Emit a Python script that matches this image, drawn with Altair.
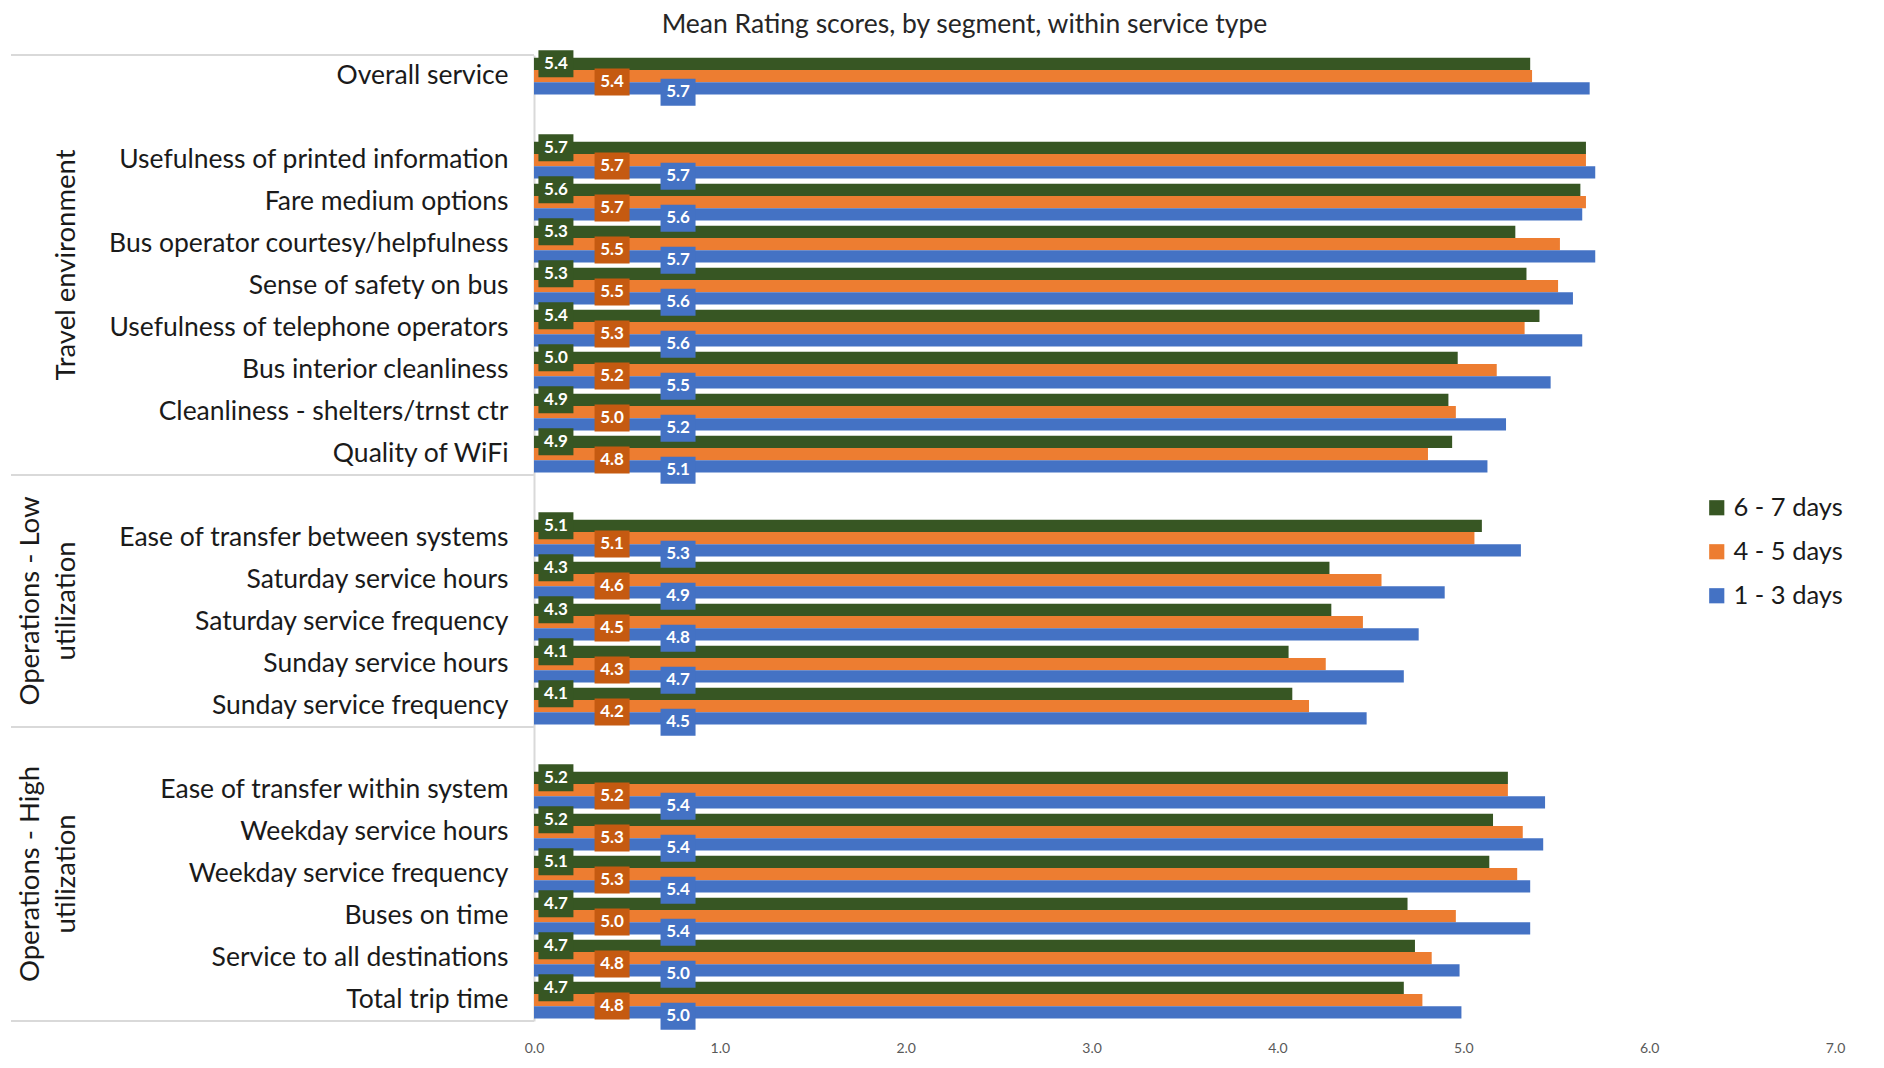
import altair as alt
import pandas as pd

# ---------------- data ----------------
categories = [
    "Overall service",
    "Usefulness of printed information",
    "Fare medium options",
    "Bus operator courtesy/helpfulness",
    "Sense of safety on bus",
    "Usefulness of telephone operators",
    "Bus interior cleanliness",
    "Cleanliness - shelters/trnst  ctr",
    "Quality of WiFi",
    "Ease of transfer between systems",
    "Saturday service hours",
    "Saturday service frequency",
    "Sunday service hours",
    "Sunday service frequency",
    "Ease of transfer within system",
    "Weekday service hours",
    "Weekday service frequency",
    "Buses on time",
    "Service to all destinations",
    "Total trip time",
]
series = ["6 - 7 days", "4 - 5 days", "1 - 3 days"]
v_6_7 = [5.36, 5.66, 5.63, 5.28, 5.34, 5.41, 4.97, 4.92, 4.94, 5.10,
         4.28, 4.29, 4.06, 4.08, 5.24, 5.16, 5.14, 4.70, 4.74, 4.68]
v_4_5 = [5.37, 5.66, 5.66, 5.52, 5.51, 5.33, 5.18, 4.96, 4.81, 5.06,
         4.56, 4.46, 4.26, 4.17, 5.24, 5.32, 5.29, 4.96, 4.83, 4.78]
v_1_3 = [5.68, 5.71, 5.64, 5.71, 5.59, 5.64, 5.47, 5.23, 5.13, 5.31,
         4.90, 4.76, 4.68, 4.48, 5.44, 5.43, 5.36, 5.36, 4.98, 4.99]
group_labels = [["Travel environment"], ["Operations - Low", "utilization"],
                ["Operations - High", "utilization"]]
group_rows = [(0, 10), (10, 16), (16, 23)]
x_ticks = [0, 1, 2, 3, 4, 5, 6, 7]
title_text = "Mean Rating scores, by segment, within service type"

# ---------------- styling ----------------
FONT = "Lato"
bar_colors = ["#375623", "#ED7D31", "#4472C4"]
box_colors = ["#375623", "#C55A11", "#4472C4"]
label_x = [0.118, 0.42, 0.775]
label_dy = [0, 6, 4]

y_domain = ([categories[0], " "] + categories[1:9] + ["  "] + categories[9:14]
            + ["   "] + categories[14:])
N_ROWS = len(y_domain)
STEP = 42
H = N_ROWS * STEP
W = 1301
SEP = "#D9D9D9"

rows = []
for s, vals in zip(series, [v_6_7, v_4_5, v_1_3]):
    for c, v in zip(categories, vals):
        rows.append({"cat": c, "series": s, "value": v})
df = pd.DataFrame(rows)

y_enc = alt.Y(
    "cat:N",
    scale=alt.Scale(domain=y_domain, paddingInner=0.125, paddingOuter=0.0625),
    axis=alt.Axis(title=None, labelFont=FONT, labelFontSize=26.5, labelColor="#1a1a1a",
                  labelPadding=26, labelLimit=700, ticks=False, domain=True,
                  domainColor=SEP, domainWidth=2),
)
yoff = alt.YOffset("series:N", scale=alt.Scale(domain=series, paddingInner=0, paddingOuter=0))

base = alt.Chart(df)

bars = base.mark_bar().encode(
    y=y_enc,
    yOffset=yoff,
    x=alt.X("value:Q", scale=alt.Scale(domain=[0, 7], nice=False),
            axis=alt.Axis(title=None, values=x_ticks, format=".1f", grid=False, domain=False,
                          ticks=False, labelFont=FONT, labelFontSize=14, labelColor="#595959",
                          labelPadding=20, labelFlush=False)),
    color=alt.Color("series:N", scale=alt.Scale(domain=series, range=bar_colors),
                    legend=alt.Legend(orient="none", legendX=1170, legendY=440, title=None,
                                      symbolType="square", symbolSize=230, symbolStrokeWidth=0,
                                      labelFont=FONT, labelFontSize=25.5, labelColor="#1a1a1a",
                                      rowPadding=17, labelOffset=4)),
)

layers = [bars]
R = 17.5
half_h = 13.5 / R
for i, s in enumerate(series):
    sh = label_dy[i] / R
    path = (f"M-1,{-half_h + sh:.3f}L1,{-half_h + sh:.3f}L1,{half_h + sh:.3f}"
            f"L-1,{half_h + sh:.3f}Z")
    sub = base.transform_filter(alt.datum.series == s)
    layers.append(
        sub.mark_point(shape=path, size=(2 * R) ** 2, filled=True, opacity=1,
                       color=box_colors[i], strokeWidth=0)
        .encode(x=alt.datum(label_x[i]), y=alt.Y("cat:N"), yOffset=alt.YOffset("series:N"))
    )
    layers.append(
        sub.mark_text(font=FONT, fontWeight="bold", fontSize=17, color="white",
                      dy=label_dy[i], baseline="middle", align="center")
        .encode(x=alt.datum(label_x[i]), y=alt.Y("cat:N"), yOffset=alt.YOffset("series:N"),
                text=alt.Text("value:Q", format=".1f"))
    )

one = pd.DataFrame({"a": [0]})
for r in [0, 10, 16, 23]:
    layers.append(
        alt.Chart(one).mark_rule(color=SEP, strokeWidth=2)
        .encode(x=alt.value(-523), x2=alt.value(0), y=alt.value(r * STEP))
    )

line_x = [-503, -467]
for lines, (r0, r1) in zip(group_labels, group_rows):
    xs = line_x[-len(lines):]
    for txt, xv in zip(lines, xs):
        layers.append(
            alt.Chart(pd.DataFrame({"t": [txt]})).mark_text(
                angle=270, font=FONT, fontSize=27.5, color="#1a1a1a",
                align="center", baseline="middle")
            .encode(text="t:N", x=alt.value(xv), y=alt.value((r0 + r1) / 2 * STEP))
        )

chart = alt.layer(*layers).properties(
    width=W, height=H,
    title=alt.TitleParams(title_text, anchor="middle", dx=-220, font=FONT, fontSize=26.5,
                          fontWeight="normal", color="#262626", offset=12),
    padding={"left": 2, "top": 3, "right": 5, "bottom": 5},
).configure_view(stroke=None)

chart.save("out.html", embed_options={"renderer": "svg", "actions": False})
